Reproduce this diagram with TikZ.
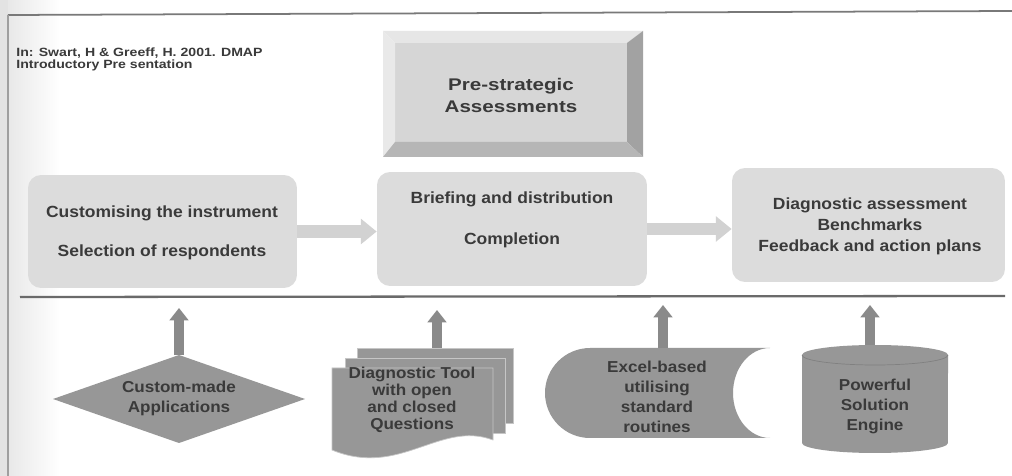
\documentclass[tikz,border=0pt]{standalone}
\usepackage{fontspec}
\setmainfont{Liberation Sans}[FakeStretch=1.08]
\newfontfamily\titlefont{Liberation Sans}[FakeStretch=1.22]
\newfontfamily\citefont{Liberation Sans}[FakeStretch=1.18]
\usetikzlibrary{arrows.meta,calc}
\definecolor{boxfill}{HTML}{DCDCDC}
\definecolor{shapefill}{HTML}{979797}
\definecolor{txt}{HTML}{3A3A3A}
\definecolor{upar}{HTML}{8A8A8A}
\definecolor{rtar}{HTML}{D2D2D2}
\definecolor{rulecol}{HTML}{6A6A6A}
\definecolor{faceC}{HTML}{D6D6D6}
\definecolor{bevTop}{HTML}{E6E6E6}
\definecolor{bevLeft}{HTML}{E9E9E9}
\definecolor{bevRight}{HTML}{A2A2A2}
\definecolor{bevBot}{HTML}{B6B6B6}
\begin{document}
\begin{tikzpicture}[x=0.02cm,y=0.02cm,
  stagebox/.style={rounded corners=0.26cm, fill=boxfill, draw=none, inner sep=0pt},
  boxtext/.style={font=\bfseries\fontsize{9.2}{11.5}\selectfont, text=txt, align=center, inner sep=0pt},
  shapetext/.style={font=\bfseries\fontsize{9}{11.4}\selectfont, text=txt, align=center, inner sep=0pt},
  titletext/.style={font=\titlefont\bfseries\fontsize{9.6}{12}\selectfont, text=txt, align=center, inner sep=0pt},
  citetext/.style={font=\citefont\bfseries\fontsize{6.8}{7}\selectfont, text=txt, align=left, inner sep=0pt},
  flowarrow/.style={draw=rtar, line width=7pt, -{Triangle[length=9pt,width=14pt]}},
  feedarrow/.style={draw=upar, line width=5.5pt, -{Triangle[length=7pt,width=10.5pt]}},
  pagefill/.style={fill=shapefill, draw=gray!45, line width=0.4pt},
]
\useasboundingbox (0,0) rectangle (1012,-476);
\fill[white] (0,0) rectangle (1012,-476);
% scan shadow and frame
\fill[gray!22] (0,0) rectangle (8,-476);
\shade[left color=gray!18, right color=white] (8,0) rectangle (60,-476);
\draw[rulecol!90, line width=1pt] (8,-15) -- (1012,-11);
\draw[gray!75, line width=0.8pt] (8,-15) -- (8,-476);

% citation
\node[citetext, anchor=north west] (cite) at (16,-47) {In: Swart, H \& Greeff, H. 2001. DMAP\\Introductory Pre sentation};

% title bevel box
\coordinate (o1) at (383,-31); \coordinate (o2) at (643,-31);
\coordinate (o3) at (643,-157); \coordinate (o4) at (383,-157);
\coordinate (i1) at (395,-43); \coordinate (i2) at (627,-43);
\coordinate (i3) at (627,-142); \coordinate (i4) at (395,-142);
\fill[faceC] (i1) -- (i2) -- (i3) -- (i4) -- cycle;
\fill[bevTop] (o1) -- (o2) -- (i2) -- (i1) -- cycle;
\fill[bevLeft] (o1) -- (o4) -- (i4) -- (i1) -- cycle;
\fill[bevRight] (o2) -- (o3) -- (i3) -- (i2) -- cycle;
\fill[bevBot] (o4) -- (o3) -- (i3) -- (i4) -- cycle;
\node[titletext] (title) at (511,-95.5) {Pre-strategic\\Assessments};

% stage boxes
\node[stagebox, minimum width=5.38cm, minimum height=2.26cm] (b1) at (162.5,-231.5) {};
\node[stagebox, minimum width=5.40cm, minimum height=2.28cm] (b2) at (512,-229) {};
\node[stagebox, minimum width=5.46cm, minimum height=2.28cm] (b3) at (868.5,-225) {};
\node[boxtext] (t1) at (162,-232.5) {Customising the instrument\\[10.5pt]Selection of respondents};
\node[boxtext] (t2) at (512,-219.5) {Briefing and distribution\\[11.7pt]Completion};
\node[boxtext] (t3) at (870,-226) {Diagnostic assessment\\[0.4pt]Benchmarks\\[0.4pt]Feedback and action plans};

\draw[flowarrow] (b1.east) -- (b1.east -| b2.west);
\draw[flowarrow] (b2.east) -- (b2.east -| b3.west);

% divider
\coordinate (dl) at (20,-297); \coordinate (dr) at (1005,-296);
\draw[rulecol, line width=1.3pt] (dl) -- (dr);

% diamond
\fill[shapefill] (53,-399) -- (179,-355) -- (305,-399) -- (179,-443) -- cycle;
\coordinate (dmdtop) at (179,-355);
\node[shapetext] (dmd) at (179,-398) {Custom-made\\Applications};

% multi-document
\draw[pagefill] (357,-348) rectangle (513,-423);
\draw[pagefill] (345,-358) rectangle (505,-433);
\draw[pagefill] (332,-368) -- (493,-368) -- (493,-440) .. controls (440,-420) and (400,-478) .. (332,-450) -- cycle;
\coordinate (doctop) at (437,-348);
\node[shapetext, font=\bfseries\fontsize{9}{9.6}\selectfont] (doc) at (412,-400) {Diagnostic Tool\\with open\\and closed\\Questions};

% stored data
\fill[shapefill] (590,-348) -- (770,-348)
  arc[start angle=90, end angle=270, x radius=0.74cm, y radius=0.9cm]
  -- (590,-438)
  arc[start angle=270, end angle=90, x radius=0.9cm, y radius=0.9cm] -- cycle;
\coordinate (xltop) at (663,-348);
\node[shapetext] (xl) at (657,-397) {Excel-based\\utilising\\standard\\routines};

% cylinder
\fill[shapefill] (802,-355) -- (802,-443)
  arc[start angle=180, end angle=360, x radius=1.46cm, y radius=0.2cm]
  -- (948,-355)
  arc[start angle=0, end angle=180, x radius=1.46cm, y radius=0.2cm] -- cycle;
\draw[shapefill!85!black, line width=0.4pt] (802,-355) arc[start angle=180, end angle=360, x radius=1.46cm, y radius=0.2cm];
\coordinate (engtop) at (870,-345);
\node[shapetext] (eng) at (875,-406) {Powerful\\Solution\\Engine};

% feed arrows
\coordinate (f1) at (179,-308);
\coordinate (f2) at (437,-310);
\coordinate (f3) at (663,-305);
\coordinate (f4) at (870,-305);
\draw[feedarrow] (dmdtop) -- (f1);
\draw[feedarrow] (doctop) -- (f2);
\draw[feedarrow] (xltop) -- (f3);
\draw[feedarrow] (engtop) -- (f4);
\end{tikzpicture}
\end{document}
